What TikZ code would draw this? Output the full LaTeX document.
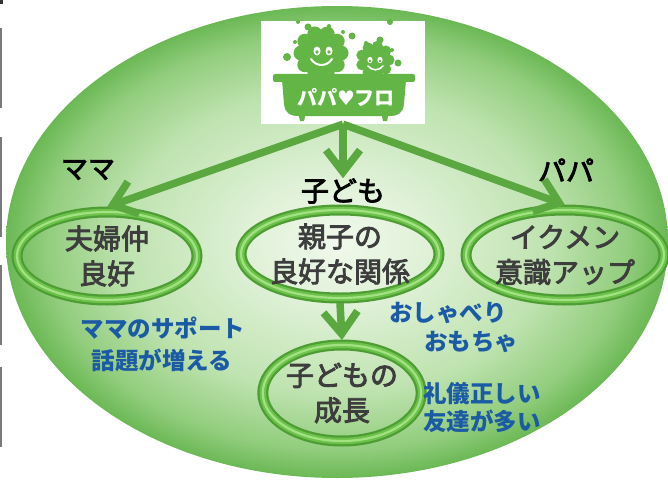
\documentclass[tikz,border=0pt]{standalone}
\usepackage{fontspec}
\usetikzlibrary{shapes.geometric,arrows.meta}
\newfontfamily\jp{Noto Sans CJK JP}
\newfontfamily\jpm{Noto Sans CJK JP}[FakeBold=3]
\newfontfamily\dejavu{DejaVu Sans}
\definecolor{bgin}{HTML}{F0F9EC}
\definecolor{bgb}{HTML}{E2F2DA}
\definecolor{bgc}{HTML}{BFE3B0}
\definecolor{bgd}{HTML}{92CD7D}
\definecolor{bgout}{HTML}{6BB855}
\definecolor{ringdark}{HTML}{4E9D34}
\definecolor{ringmid}{HTML}{6CC24A}
\definecolor{ringlight}{HTML}{A2E283}
\definecolor{arrgreen}{HTML}{5AA83F}
\definecolor{logogreen}{HTML}{63B645}
\definecolor{txtgray}{HTML}{3D3D3D}
\definecolor{txtblue}{HTML}{1B5AA5}
\definecolor{bargray}{HTML}{7A7A7A}
\pgfdeclareradialshading{bgsh}{\pgfpoint{0bp}{0bp}}{color(0bp)=(bgin); color(6bp)=(bgb); color(16bp)=(bgc); color(22bp)=(bgd); color(25bp)=(bgout); color(50bp)=(bgout)}
\begin{document}
\begin{tikzpicture}[x=1pt,y=-1pt,
  ring/.style={ellipse, draw=ringdark, line width=11pt, inner sep=0pt, outer sep=5pt,
    text=txtgray, font=\jpm\fontsize{28}{35}\selectfont, align=center,
    postaction={draw=ringmid,line width=6.5pt}, postaction={draw=ringlight,line width=2.2pt}},
  lab/.style={font=\jpm\fontsize{27}{32}\selectfont, text=black, inner sep=0pt},
  bluetxt/.style={font=\jp\bfseries\fontsize{23.5}{30}\selectfont, text=txtblue, inner sep=0pt},
  arr/.style={draw=arrgreen, line width=7.5pt, -{Straight Barb[length=22pt,width=34pt]}},
  logofill/.style={fill=logogreen},
  eye/.style={fill=white}]
\useasboundingbox (0,0) rectangle (668,484);
% left edge artefacts
\fill[black!80] (0,0) rectangle (3,4);
\fill[bargray] (0,28) rectangle (2,108);
\fill[bargray] (0,137) rectangle (2,237);
\fill[bargray] (0,265) rectangle (2,345);
\fill[bargray] (0,367) rectangle (2,447);
% background ellipse
\shade[shading=bgsh] (337,242) ellipse [x radius=331pt, y radius=236pt];
% logo
\node[fill=white, minimum width=164pt, minimum height=103pt, inner sep=0pt] (logo) at (343,72.5) {};
\fill[logofill] (321,53) circle (20pt);
\foreach \a in {0,36,...,324} \fill[logofill] (321,53) ++(\a:20pt) circle (7.5pt);
\fill[logofill] (375,60) circle (15pt);
\foreach \a in {0,40,...,320} \fill[logofill] (375,60) ++(\a:14pt) circle (5.5pt);
\foreach \p/\r in {{(287,57)}/4,{(295,42)}/2,{(308,27)}/3.5,{(329,26)}/2,{(343,32)}/2,{(352,36)}/3.5,{(366,43)}/2,{(380,40)}/3.5,{(392,50)}/2,{(398,63)}/3.5,{(390,22)}/3,{(298,22)}/2}
  \fill[logofill] \p circle (\r pt);
% faces
\fill[eye] (317,51) ellipse [x radius=3.5pt, y radius=4.5pt];
\fill[eye] (329,51) ellipse [x radius=3.5pt, y radius=4.5pt];
\fill[logogreen] (317,52) circle (1.8pt);
\fill[logogreen] (329,52) circle (1.8pt);
\draw[white, line width=2pt, line cap=round] (311,59) .. controls (316,67) and (327,67) .. (332,59);
\fill[eye] (370,60) ellipse [x radius=2.6pt, y radius=3.2pt];
\fill[eye] (380,60) ellipse [x radius=2.6pt, y radius=3.2pt];
\fill[logogreen] (370,61) circle (1.3pt);
\fill[logogreen] (380,61) circle (1.3pt);
\draw[white, line width=1.6pt, line cap=round] (368,66) .. controls (372,71) and (379,71) .. (383,66);
% tub
\fill[logofill, rounded corners=2pt] (273,74) rectangle (415,82);
\fill[logofill] (282,80) -- (406,80) -- (404,104) .. controls (403,113) and (398,116) .. (390,116) -- (298,116) .. controls (290,116) and (285,113) .. (284,104) -- cycle;
\fill[logofill] (298,112) -- (306,112) -- (304,121) -- (300,121) -- cycle;
\fill[logofill] (381,112) -- (389,112) -- (387,121) -- (383,121) -- cycle;
\node[font=\jp\bfseries\fontsize{20}{20}\selectfont, text=white, inner sep=0pt] (logotext) at (346,98) {パパ{\dejavu ♥}フロ};
% labels
\node[lab] (mama) at (88,170) {ママ};
\node[lab, font=\jpm\fontsize{28}{32}\selectfont] (kodomo) at (343,191) {子ども};
\node[lab, font=\jpm\fontsize{28}{32}\selectfont] (papa) at (566,170) {パパ};
% rings
\node[ring, minimum width=180pt, minimum height=88pt] (r1) at (107,256) {夫婦仲\\良好};
\node[ring, minimum width=186pt, minimum height=88pt] (r2) at (340,254) {親子の\\良好な関係};
\node[ring, minimum width=182pt, minimum height=90pt] (r3) at (565,255) {イクメン\\意識アップ};
\node[ring, minimum width=150pt, minimum height=96pt] (r4) at (342,393) {子どもの\\成長};
% arrows
\draw[arr] (logo.south) -- (r1.north);
\draw[arr] (logo.south) -- (r3.north);
\draw[arr] (logo.south) -- (kodomo.north);
\draw[arr] (r2.south) -- (r4.north);
% blue texts
\node[bluetxt] (b1) at (163,328) {ママのサポート};
\node[bluetxt] (b2) at (162,360) {話題が増える};
\node[bluetxt] (b3) at (448,313) {おしゃべり};
\node[bluetxt] (b4) at (471,342) {おもちゃ};
\node[bluetxt] (b5) at (482,394) {礼儀正しい};
\node[bluetxt] (b6) at (482,421) {友達が多い};
\end{tikzpicture}
\end{document}
